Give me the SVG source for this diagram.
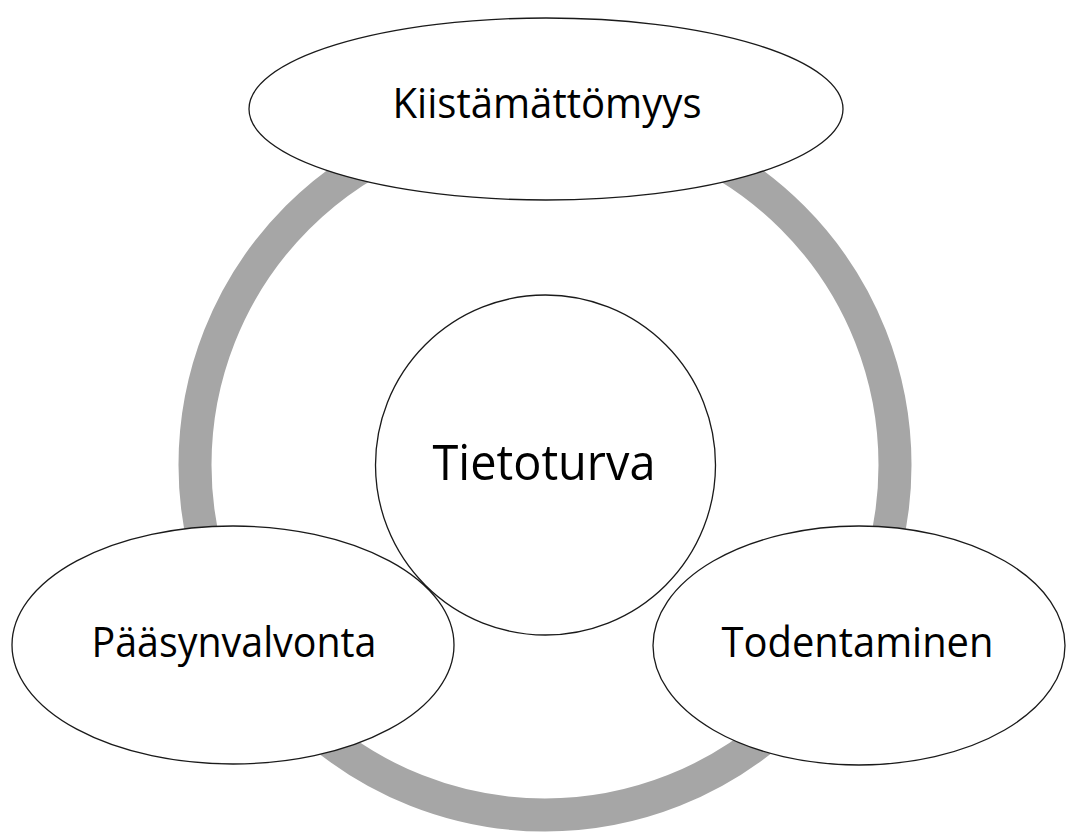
<svg xmlns="http://www.w3.org/2000/svg" width="1070" height="834" viewBox="0 0 1070 834">
  <style>
    .shape { fill: #ffffff; stroke: #1a1a1a; stroke-width: 1.3; }
    .outline { fill: none; stroke: #1a1a1a; stroke-width: 1.3; }
    .label { font-family: "Open Sans", "Liberation Sans", sans-serif; fill: #000000; text-anchor: middle; }
  </style>
  <rect x="0" y="0" width="1070" height="834" fill="#ffffff"/>
  <g id="connectors">
    <circle cx="545" cy="465" r="350" fill="none" stroke="#a6a6a6" stroke-width="33"/>
  </g>
  <g id="node-kiistamattomyys">
    <ellipse class="shape" cx="546" cy="109" rx="297" ry="91"/>
    <text class="label" x="547" y="118" font-size="42" textLength="309" lengthAdjust="spacingAndGlyphs">Kiistämättömyys</text>
  </g>
  <g id="node-paasynvalvonta">
    <ellipse class="shape" cx="233" cy="645" rx="221" ry="119"/>
    <text class="label" x="234" y="657" font-size="42" textLength="285" lengthAdjust="spacingAndGlyphs">Pääsynvalvonta</text>
  </g>
  <g id="node-todentaminen">
    <ellipse class="shape" cx="859" cy="645.5" rx="206" ry="119.5"/>
    <text class="label" x="857.5" y="657" font-size="42" textLength="272" lengthAdjust="spacingAndGlyphs">Todentaminen</text>
  </g>
  <g id="node-tietoturva">
    <circle class="outline" cx="545.5" cy="465" r="170"/>
    <text class="label" x="544" y="480" font-size="50" textLength="223" lengthAdjust="spacingAndGlyphs">Tietoturva</text>
  </g>
</svg>
